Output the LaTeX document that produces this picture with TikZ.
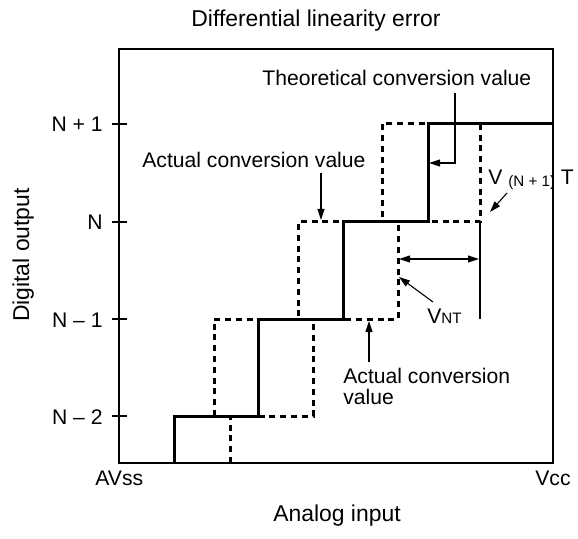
\documentclass[tikz,border=0pt]{standalone}
\usepackage{fontspec}
\setmainfont{Liberation Sans}
\usetikzlibrary{arrows.meta}
\newcommand{\lblfont}{\fontsize{10.6}{10.5}\selectfont}
\newcommand{\axfont}{\fontsize{11.5}{12}\selectfont}
\newcommand{\subfont}{\fontsize{7.6}{8}\selectfont}

\begin{document}
\begin{tikzpicture}[
  x=0.5bp, y=-0.5bp,
  lbl/.style={inner sep=0pt, font=\lblfont},
  axlbl/.style={inner sep=0pt, font=\axfont},
  frame/.style={line width=0.7bp},
  theo line/.style={line width=1.5bp},
  act line/.style={line width=1.5bp, dash pattern=on 3bp off 2.4bp},
  pointer/.style={line width=0.55bp, -{Triangle[length=5.5bp,width=3.5bp]}},
  ]
  \useasboundingbox (0,0) rectangle (578,539);
  \draw[frame] (119,49) rectangle (553,463);
  \foreach \yy/\txt in {124/N + 1, 222/N, 319/N – 1, 416/N – 2} {
    \draw[frame] (112,\yy) -- (127,\yy);
    \node[lbl, anchor=base east] (tick\yy) at (103,\yy+8) {\txt};
  }
  % axis texts
  \node[axlbl, anchor=base] (title) at (316,27) {Differential linearity error};
  \node[axlbl, anchor=base] (xlab) at (337,521) {Analog input};
  \node[axlbl, anchor=base, rotate=90] (ylab) at (29,255) {Digital output};
  \node[lbl, anchor=base west] (avss) at (95,485) {AVss};
  \node[lbl, anchor=base west] (vcc) at (535,485) {Vcc};

  % actual conversion (dashed)
  \draw[act line] (230,463) |- (313,416) |- (398,319) |- (480,222) -- (480,124);
  \draw[act line] (214,416) |- (298,319) |- (382,222) |- (428,124);
  % theoretical conversion (solid)
  \draw[theo line] (174,463) |- (258,416) |- (343,319) |- (428,222) |- (553,124);

  % labels
  \node[lbl, anchor=base west] (theo) at (262,86) {Theoretical conversion value};
  \node[lbl, anchor=base west] (act1) at (142,168) {Actual conversion value};
  \node[lbl, anchor=north west, align=left] (act2) at (343,368) {Actual conversion\\value};
  \node[lbl, anchor=base west] (vnt) at (427,323) {V{\subfont NT}};
  \node[lbl, anchor=base west] (vn1) at (488,185) {V \raisebox{-0.8bp}{\subfont (N + 1)} T};

  \coordinate (theoA) at (455,93);
  \coordinate (theoB) at (429,163);
  \coordinate (act1A) at (321,173);
  \coordinate (act1B) at (321,220);
  \coordinate (act2A) at (369,362);
  \coordinate (act2B) at (369,321);
  \coordinate (vntA) at (433,302);
  \coordinate (vntB) at (399,277);
  \coordinate (vn1A) at (507,193);
  \coordinate (vn1B) at (490,212);
  \coordinate (dimA) at (399,259);
  \coordinate (dimB) at (479,259);

  \draw[pointer] (theoA) |- (theoB);
  \draw[pointer] (act1A) -- (act1B);
  \draw[pointer] (act2A) -- (act2B);
  \draw[pointer] (vntA) -- (vntB);
  \draw[pointer] (vn1A) -- (vn1B);
  \draw[frame] (480,222) -- (480,319);
  \draw[pointer, {Triangle[length=5.5bp,width=3.5bp]}-{Triangle[length=5.5bp,width=3.5bp]}] (dimA) -- (dimB);
\end{tikzpicture}
\end{document}
